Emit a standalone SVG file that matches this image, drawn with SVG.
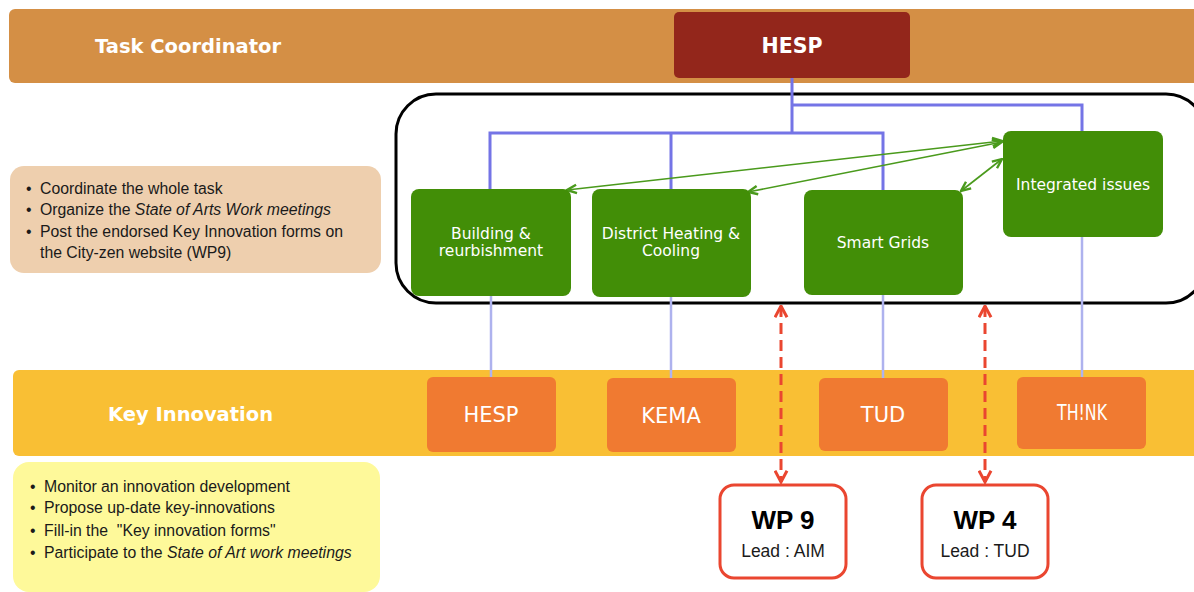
<svg xmlns="http://www.w3.org/2000/svg" width="1194" height="592" viewBox="0 0 1194 592">
<defs>
<style>
.band-tc{fill:#D48F45}
.band-ki{fill:#F9BF34}
.green{fill:#428E07}
.orange{fill:#F07A31}
.gtxt{font-family:"DejaVu Sans",sans-serif;font-size:15.5px;fill:#ffffff;text-anchor:middle}
.otxt{font-family:"DejaVu Sans",sans-serif;font-size:21px;fill:#ffffff;text-anchor:middle}
.btxt{font-family:"Liberation Sans",Arial,sans-serif;font-size:15.8px;fill:#1a1a1a}
.hdr{font-family:"DejaVu Sans",sans-serif;font-size:19.5px;font-weight:bold;fill:#ffffff}
.blue{stroke:#7474E6;stroke-width:3;fill:none}
.lblue{stroke:#AEB2EE;stroke-width:2.5;fill:none}
.garrow{stroke:#4A9A1C;stroke-width:1.6;fill:none;marker-start:url(#ga);marker-end:url(#ga)}
.rarrow{stroke:#EA4630;stroke-width:3;fill:none;stroke-dasharray:11 6;marker-start:url(#ra);marker-end:url(#ra)}
.wp{fill:#ffffff;stroke:#EA4630;stroke-width:3}
.wpt{font-family:"Liberation Sans",Arial,sans-serif;font-size:26px;font-weight:bold;fill:#000;text-anchor:middle}
.wpl{font-family:"Liberation Sans",Arial,sans-serif;font-size:17.5px;fill:#1a1a1a;text-anchor:middle}
</style>
<marker id="ga" viewBox="0 0 10 10" refX="9" refY="5" markerWidth="12" markerHeight="12" markerUnits="userSpaceOnUse" orient="auto-start-reverse">
<path d="M1,1.5 L9,5 L1,8.5" fill="none" stroke="#4A9A1C" stroke-width="2"/>
</marker>
<marker id="ra" viewBox="0 0 10 10" refX="9" refY="5" markerWidth="15" markerHeight="15" markerUnits="userSpaceOnUse" orient="auto-start-reverse">
<path d="M1.5,1 L9,5 L1.5,9" fill="none" stroke="#EA4630" stroke-width="2"/>
</marker>
</defs>

<rect width="1194" height="592" fill="#ffffff"/>

<g id="band-task-coordinator">
<rect class="band-tc" x="9" y="9" width="1195" height="74" rx="6"/>
<text class="hdr" x="95" y="53">Task Coordinator</text>
</g>

<g id="band-key-innovation">
<rect class="band-ki" x="13" y="370" width="1190" height="86" rx="6"/>
<text class="hdr" x="108" y="421">Key Innovation</text>
</g>

<g id="coordinator-notes">
<rect x="10" y="166" width="371" height="107" rx="14" fill="#EECFAE"/>
<text class="btxt">
<tspan x="26" y="194">•</tspan><tspan x="40" y="194">Coordinate the whole task</tspan>
<tspan x="26" y="215">•</tspan><tspan x="40" y="215">Organize the </tspan><tspan font-style="italic">State of Arts Work meetings</tspan>
<tspan x="26" y="237">•</tspan><tspan x="40" y="237">Post the endorsed Key Innovation forms on</tspan>
<tspan x="40" y="258">the City-zen website (WP9)</tspan>
</text>
</g>

<g id="innovation-notes">
<rect x="13" y="462" width="367" height="130" rx="16" fill="#FEF99A"/>
<text class="btxt">
<tspan x="30" y="492">•</tspan><tspan x="44" y="492">Monitor an innovation development</tspan>
<tspan x="30" y="513">•</tspan><tspan x="44" y="513">Propose up-date key-innovations</tspan>
<tspan x="30" y="536">•</tspan><tspan x="44" y="536">Fill-in the &#160;"Key innovation forms"</tspan>
<tspan x="30" y="558">•</tspan><tspan x="44" y="558">Participate to the </tspan><tspan font-style="italic">State of Art work meetings</tspan>
</text>
</g>

<g id="topics-frame">
<rect x="396" y="94" width="810" height="209" rx="40" fill="none" stroke="#000" stroke-width="3"/>
</g>

<g id="connectors">
<path class="blue" d="M792,78 V133 M792,105 H1082 V131 M490,189 V133 H883 V190 M671,133 V189"/>
<path class="lblue" d="M491,296 V377 M671,297 V378 M883,295 V378 M1082,237 V377"/>
<line class="garrow" x1="1002" y1="141" x2="567" y2="190"/>
<line class="garrow" x1="1002" y1="142" x2="748" y2="192"/>
<line class="garrow" x1="1002" y1="159" x2="961" y2="191"/>
<line class="rarrow" x1="781" y1="306" x2="781" y2="482"/>
<line class="rarrow" x1="985" y1="306" x2="985" y2="482"/>
</g>

<g id="hesp-coordinator">
<rect x="674" y="12" width="236" height="66" rx="5" fill="#93261B"/>
<text x="792" y="53" font-family="DejaVu Sans,sans-serif" font-size="20.5" font-weight="bold" fill="#fff" text-anchor="middle">HESP</text>
</g>

<g id="building">
<rect class="green" x="411" y="189" width="160" height="107" rx="8"/>
<text class="gtxt"><tspan x="491" y="239">Building &amp;</tspan><tspan x="491" y="256">reurbishment</tspan></text>
</g>
<g id="district-heating">
<rect class="green" x="592" y="189" width="159" height="108" rx="8"/>
<text class="gtxt"><tspan x="671" y="239">District Heating &amp;</tspan><tspan x="671" y="256">Cooling</tspan></text>
</g>
<g id="smart-grids">
<rect class="green" x="804" y="190" width="159" height="105" rx="8"/>
<text class="gtxt" x="883" y="248">Smart Grids</text>
</g>
<g id="integrated-issues">
<rect class="green" x="1003" y="131" width="160" height="106" rx="8"/>
<text class="gtxt" x="1083" y="190">Integrated issues</text>
</g>

<g id="ki-hesp">
<rect class="orange" x="427" y="377" width="129" height="75" rx="6"/>
<text class="otxt" x="491" y="422">HESP</text>
</g>
<g id="ki-kema">
<rect class="orange" x="607" y="378" width="129" height="74" rx="6"/>
<text class="otxt" x="671" y="423">KEMA</text>
</g>
<g id="ki-tud">
<rect class="orange" x="819" y="378" width="129" height="73" rx="6"/>
<text class="otxt" x="883" y="422">TUD</text>
</g>
<g id="ki-think">
<rect class="orange" x="1017" y="377" width="129" height="72" rx="6"/>
<text class="otxt" x="1082" y="420" font-size="16" textLength="50" lengthAdjust="spacingAndGlyphs">TH!NK</text>
</g>

<g id="wp9">
<rect class="wp" x="720" y="485" width="126" height="93" rx="14"/>
<text class="wpt" x="783" y="529">WP 9</text>
<text class="wpl" x="783" y="557">Lead : AIM</text>
</g>
<g id="wp4">
<rect class="wp" x="922" y="485" width="126" height="93" rx="14"/>
<text class="wpt" x="985" y="529">WP 4</text>
<text class="wpl" x="985" y="557">Lead : TUD</text>
</g>
</svg>
